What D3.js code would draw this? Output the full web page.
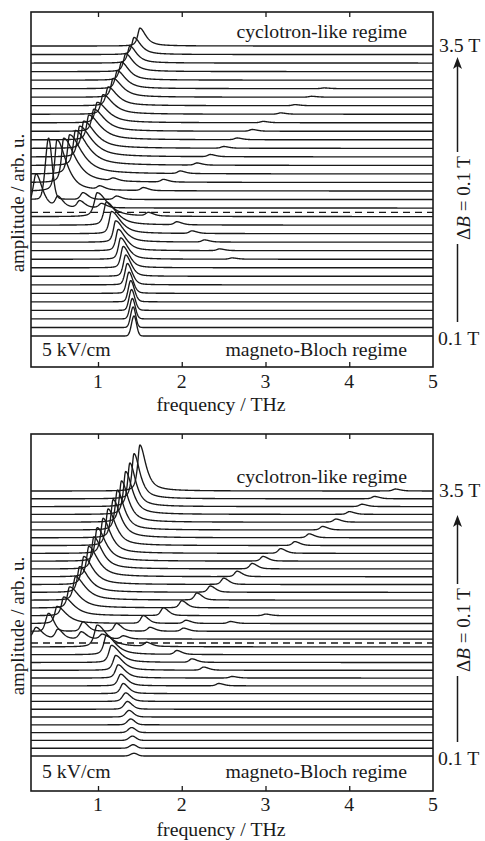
<!DOCTYPE html>
<html>
<head>
<meta charset="utf-8">
<script src="https://cdn.jsdelivr.net/npm/d3@7"></script>
<style>
  body { margin: 0; background: #fff; }
  svg { display: block; }
  text { font-family: "Liberation Serif", "Times New Roman", serif; fill: #1a1a1a; }
</style>
</head>
<body>
<svg id="chart" width="485" height="841"></svg>
<script>
// Magnetic field of each spectrum (T), bottom to top
const fields = [0.1, 0.2, 0.3, 0.4, 0.5, 0.6, 0.7, 0.8, 0.9, 1.0,
                1.1, 1.2, 1.3, 1.4, 1.5, 1.6, 1.7, 1.8, 1.9, 2.0,
                2.1, 2.2, 2.3, 2.4, 2.5, 2.6, 2.7, 2.8, 2.9, 3.0,
                3.1, 3.2, 3.3, 3.4, 3.5];
const criticalField = 1.55;           // boundary between the two regimes (dashed)
const freqTicks = [1, 2, 3, 4, 5];    // THz

// Main resonance frequency for each field (THz)
const peakFreq = [1.43, 1.42, 1.41, 1.40, 1.39, 1.37, 1.35, 1.33, 1.30, 1.27,
                  1.24, 1.21, 1.16, 1.10, 0.99, 0.26, 0.41, 0.51, 0.59, 0.66,
                  0.73, 0.78, 0.83, 0.89, 0.95, 0.99, 1.06, 1.12, 1.18, 1.23,
                  1.28, 1.33, 1.38, 1.43, 1.50];
// Fraction of Lorentzian (long-tailed) character of each resonance
const lorentzFrac = [0.0, 0.0, 0.1, 0.15, 0.2, 0.3, 0.4, 0.5, 0.55, 0.6,
                     0.65, 0.7, 0.7, 0.75, 0.75, 0.6, 0.15, 0.7, 0.75, 0.8,
                     0.8, 0.8, 0.8, 0.8, 0.8, 0.8, 0.8, 0.8, 0.8, 0.8,
                     0.8, 0.8, 0.8, 0.8, 0.8];

// Upper panel: resonance amplitude (units of the trace offset), flank widths (THz)
const ampUpper = [2.35, 2.4, 2.4, 2.45, 2.5, 2.5, 2.5, 2.5, 2.5, 2.5,
                  2.5, 2.5, 2.6, 2.7, 2.8, 4.0, 7.2, 6.0, 5.2, 4.6,
                  4.1, 3.6, 3.2, 2.9, 2.6, 2.4, 2.3, 2.2, 2.2, 2.1,
                  2.1, 2.1, 2.0, 2.0, 2.1];
const riseUpper = [0.03, 0.03, 0.03, 0.03, 0.03, 0.03, 0.03, 0.03, 0.03, 0.03,
                   0.03, 0.03, 0.03, 0.035, 0.04, 0.04, 0.038, 0.03, 0.03, 0.03,
                   0.03, 0.03, 0.03, 0.03, 0.03, 0.03, 0.03, 0.03, 0.03, 0.03,
                   0.03, 0.03, 0.03, 0.03, 0.03];
const tailUpper = [0.03, 0.03, 0.035, 0.04, 0.045, 0.05, 0.06, 0.07, 0.08, 0.09,
                   0.10, 0.11, 0.12, 0.13, 0.14, 0.08, 0.042, 0.12, 0.15, 0.16,
                   0.16, 0.16, 0.15, 0.15, 0.14, 0.14, 0.13, 0.12, 0.12, 0.11,
                   0.10, 0.10, 0.09, 0.09, 0.08];
// Weaker side peaks of the upper panel: [field index, frequency (THz), amplitude]
const sideUpper = [
  [9, 2.60, 0.15], [10, 2.45, 0.2], [11, 2.27, 0.25], [12, 2.12, 0.3], [13, 1.94, 0.35], [14, 1.60, 0.4],
  [15, 0.52, 1.2], [15, 0.78, 0.8], [15, 1.04, 0.5], [16, 0.82, 0.8], [16, 1.22, 0.4],
  [17, 1.02, 0.4], [17, 1.54, 0.35], [18, 1.18, 0.3], [18, 1.78, 0.3], [19, 1.98, 0.3], [20, 2.18, 0.25],
  [21, 2.34, 0.25], [22, 2.50, 0.2], [23, 2.66, 0.2], [24, 2.84, 0.2], [25, 2.97, 0.15],
  [26, 3.18, 0.15], [27, 3.35, 0.12], [28, 3.55, 0.1], [29, 3.70, 0.08]
];

// Lower panel
const ampLower = [0.35, 0.45, 0.55, 0.65, 0.75, 0.85, 1.0, 1.1, 1.3, 1.5,
                  1.7, 1.9, 2.2, 2.5, 2.8, 1.5, 2.3, 2.2, 2.4, 2.7,
                  3.0, 3.3, 3.6, 3.9, 4.1, 4.3, 4.5, 4.7, 4.9, 5.1,
                  5.3, 5.5, 5.6, 5.8, 5.9];
const riseLower = [0.04, 0.04, 0.04, 0.04, 0.04, 0.04, 0.04, 0.04, 0.035, 0.035,
                   0.035, 0.035, 0.035, 0.035, 0.04, 0.04, 0.035, 0.03, 0.03, 0.03,
                   0.03, 0.03, 0.03, 0.03, 0.03, 0.03, 0.03, 0.03, 0.03, 0.03,
                   0.03, 0.03, 0.03, 0.03, 0.03];
const tailLower = [0.04, 0.04, 0.045, 0.05, 0.05, 0.055, 0.06, 0.065, 0.07, 0.08,
                   0.09, 0.10, 0.11, 0.12, 0.13, 0.08, 0.06, 0.12, 0.13, 0.13,
                   0.13, 0.12, 0.12, 0.12, 0.11, 0.11, 0.10, 0.10, 0.10, 0.09,
                   0.09, 0.09, 0.08, 0.08, 0.08];
const sideLower = [
  [9, 2.44, 0.3], [10, 2.60, 0.2], [11, 2.26, 0.4], [12, 2.12, 0.45], [13, 1.94, 0.5], [14, 1.58, 0.5],
  [15, 0.52, 1.2], [15, 0.80, 0.9], [15, 1.05, 0.6], [15, 1.30, 0.4],
  [16, 0.82, 1.2], [16, 1.22, 1.0], [16, 1.62, 0.5], [16, 2.02, 0.4],
  [17, 1.54, 1.0], [17, 2.05, 0.4], [17, 2.58, 0.25], [18, 1.78, 1.0], [18, 3.00, 0.2],
  [19, 2.00, 0.9], [20, 2.18, 0.9], [21, 2.34, 0.8], [22, 2.50, 0.8], [23, 2.66, 0.7],
  [24, 2.84, 0.7], [25, 2.97, 0.6], [26, 3.18, 0.6], [27, 3.35, 0.5], [28, 3.52, 0.5],
  [29, 3.68, 0.45], [30, 3.84, 0.4], [31, 4.00, 0.35], [32, 4.15, 0.3], [33, 4.30, 0.3], [34, 4.55, 0.25]
];

const svg = d3.select("#chart");
const fontSize = 19, stretch = 1.04;
const sideWidth = 0.045;   // THz, width of the side peaks
const freqGrid = d3.range(0.2, 5.0001, 0.004);

// asymmetric pseudo-Voigt profile, unit height
function lineShape(d, rise, tail, frac) {
  const u = d / (d < 0 ? rise : tail);
  return (1 - frac) * Math.exp(-0.5 * u * u) + frac / (1 + u * u);
}

function spectrum(i, p) {
  const mine = p.sides.filter(s => s[0] === i);
  return freqGrid.map(f => {
    let v = p.amps[i] * lineShape(f - peakFreq[i], p.rise[i], p.tails[i], lorentzFrac[i]);
    for (const s of mine) {
      const d = f - s[1];
      const u = d / (d < 0 ? sideWidth * 0.7 : sideWidth * 1.4);
      v += s[2] * (0.6 * Math.exp(-0.5 * u * u) + 0.4 / (1 + u * u));
    }
    return [f, v];
  });
}

function label(g, txt, x, y, anchor, rot) {
  return g.append("text")
    .attr("text-anchor", anchor)
    .attr("dominant-baseline", "central")
    .attr("font-size", fontSize)
    .attr("transform", rot ? `translate(${x},${y}) rotate(-90) scale(1,${stretch})`
                           : `translate(${x},${y}) scale(${stretch},1)`)
    .text(txt);
}

function drawPanel(p) {
  const g = svg.append("g");
  const x = d3.scaleLinear().domain([0.2, 5]).range([31, 433]);
  const y = d3.scaleLinear().domain([fields[0], fields[fields.length - 1]]).range([p.yLow, p.yHigh]);
  const step = fields[1] - fields[0];

  const clipId = "clip" + p.id;
  g.append("clipPath").attr("id", clipId).append("rect")
    .attr("x", 31).attr("y", p.top).attr("width", 402).attr("height", p.bottom - p.top);

  const plot = g.append("g").attr("clip-path", `url(#${clipId})`);
  const line = d3.line().x(d => x(d[0]));

  fields.forEach((B, i) => {
    plot.append("path")
      .attr("d", line.y(d => y(B + d[1] * step))(spectrum(i, p)))
      .attr("fill", "none").attr("stroke", "#1a1a1a").attr("stroke-width", 1.35)
      .attr("stroke-linejoin", "round");
  });

  // regime boundary
  plot.append("line")
    .attr("x1", x(0.2)).attr("x2", x(5)).attr("y1", y(criticalField)).attr("y2", y(criticalField))
    .attr("stroke", "#1a1a1a").attr("stroke-width", 1.3).attr("stroke-dasharray", "7,5");

  // frame
  g.append("rect").attr("x", 31).attr("y", p.top).attr("width", 402).attr("height", p.bottom - p.top)
    .attr("fill", "none").attr("stroke", "#1a1a1a").attr("stroke-width", 1.6);

  // inward ticks top and bottom
  const axB = d3.axisBottom(x).tickValues(freqTicks.slice(0, 4)).tickSize(-5).tickFormat("");
  const axT = d3.axisTop(x).tickValues(freqTicks.slice(0, 4)).tickSize(-5).tickFormat("");
  const gb = g.append("g").attr("transform", `translate(0,${p.bottom})`).call(axB);
  const gt = g.append("g").attr("transform", `translate(0,${p.top})`).call(axT);
  [gb, gt].forEach(a => {
    a.select(".domain").remove();
    a.selectAll("line").attr("stroke", "#1a1a1a").attr("stroke-width", 1.3);
  });
  freqTicks.forEach(t => label(g, String(t), x(t), p.tickY, "middle"));

  label(g, "frequency / THz", 221, p.xLabelY, "middle");
  label(g, "amplitude / arb. u.", 17, p.yLabelY, "middle", true);
  label(g, "cyclotron-like regime", 407, p.cycY, "end");
  label(g, "magneto-Bloch regime", 407, p.blochY, "end");
  label(g, "5 kV/cm", 42, p.blochY, "start");
  label(g, "3.5 T", 439, p.yHigh, "start");
  label(g, "0.1 T", 438, p.yLow + 3, "start");

  // field-direction arrow
  const ax = 457.5;
  g.append("line").attr("x1", ax).attr("x2", ax).attr("y1", p.arrowBottom).attr("y2", p.textMid + 46)
    .attr("stroke", "#1a1a1a").attr("stroke-width", 1.5);
  g.append("line").attr("x1", ax).attr("x2", ax).attr("y1", p.textMid - 46).attr("y2", p.arrowTop + 8)
    .attr("stroke", "#1a1a1a").attr("stroke-width", 1.5);
  g.append("path")
    .attr("d", `M${ax},${p.arrowTop} L${ax - 4.5},${p.arrowTop + 12} L${ax},${p.arrowTop + 9} L${ax + 4.5},${p.arrowTop + 12} Z`)
    .attr("fill", "#1a1a1a");

  const dt = g.append("text").attr("text-anchor", "middle").attr("dominant-baseline", "central")
    .attr("font-size", fontSize)
    .attr("transform", `translate(${ax + 5},${p.textMid}) rotate(-90) scale(1,${stretch})`);
  dt.append("tspan").text("Δ");
  dt.append("tspan").attr("font-style", "italic").text("B");
  dt.append("tspan").text(" = 0.1 T");
}

drawPanel({ id: 1, top: 12, bottom: 367, yLow: 336, yHigh: 46, tickY: 382, xLabelY: 405, yLabelY: 203,
            cycY: 32, blochY: 350, arrowTop: 57, arrowBottom: 322, textMid: 198,
            amps: ampUpper, rise: riseUpper, tails: tailUpper, sides: sideUpper });
drawPanel({ id: 2, top: 434, bottom: 791, yLow: 756, yHigh: 491, tickY: 805, xLabelY: 830, yLabelY: 626,
            cycY: 477, blochY: 772, arrowTop: 515, arrowBottom: 742, textMid: 630,
            amps: ampLower, rise: riseLower, tails: tailLower, sides: sideLower });
</script>
</body>
</html>
